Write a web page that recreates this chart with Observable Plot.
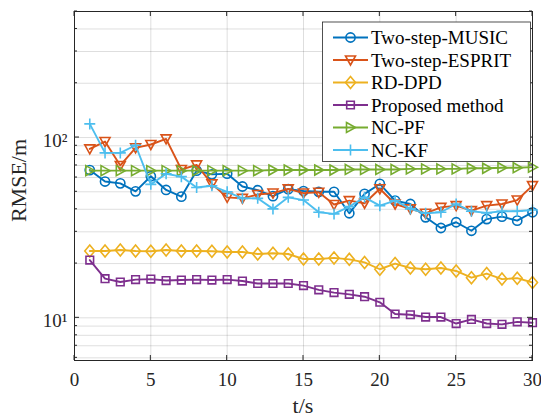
<!DOCTYPE html>
<html><head><meta charset="utf-8">
<script src="https://cdn.jsdelivr.net/npm/d3@7"></script>
<script src="https://cdn.jsdelivr.net/npm/@observablehq/plot@0.6"></script>
<style>
body{margin:0;background:#fff}
#chart{width:541px;height:418px}
</style>
</head><body><div id="chart"></div>
<script>
// ---- data ----
const t = [1,2,3,4,5,6,7,8,9,10,11,12,13,14,15,16,17,18,19,20,21,22,23,24,25,26,27,28,29,30];
const musicValues = [66, 57, 55.7, 50.3, 61, 51.2, 47, 65.5, 62.5, 63, 53.5, 51, 47.3, 51.7, 50.5, 50, 50, 38, 48.7, 55.3, 44.7, 42.8, 36.1, 31.5, 33.9, 30.4, 35.3, 36.4, 34.6, 38.5];
const espritValues = [86.5, 95, 70, 87.7, 91.5, 98.3, 66.5, 70.5, 55.3, 46.6, 46, 48.3, 49.2, 51.9, 49.2, 49.7, 42.5, 44.7, 43.2, 52, 42.8, 40.2, 38, 41, 41.9, 39.3, 41.9, 42.8, 45, 54.1];
const rdDpdValues = [23.5, 23.5, 23.8, 23.5, 23.4, 23.8, 23.5, 23.5, 23.4, 23.2, 23.2, 22.6, 22.8, 22.6, 21.2, 21.2, 21.5, 21.1, 20.3, 18.6, 20.0, 18.9, 18.6, 18.9, 18.2, 16.7, 17.6, 16.4, 16.6, 15.7];
const proposedValues = [20.9, 16.5, 15.8, 16.3, 16.4, 16.1, 16.2, 16.3, 16.2, 16.3, 16.0, 15.5, 15.5, 15.5, 15.1, 14.3, 13.8, 13.5, 13.1, 12.2, 10.5, 10.4, 10.1, 10.1, 9.3, 9.8, 9.3, 9.2, 9.5, 9.4];
const ncPfValues = [65.5, 65.5, 65.5, 65.5, 65.5, 65.5, 65.5, 65.5, 65.5, 65.5, 65.5, 65.5, 66, 66, 66, 66, 66, 66.5, 66.5, 66.5, 66.5, 67, 67, 67, 67, 67.5, 67.5, 68, 68, 68.5];
const ncKfValues = [119, 82.2, 82.2, 90.6, 55, 63, 60.7, 52.8, 54, 50, 46, 46, 40.2, 46.6, 45, 38.5, 37.7, 41.4, 46.6, 41.9, 44.7, 40.2, 38, 38.5, 42.8, 39, 38.2, 39, 39, 39.6];

const seriesNames = ["Two-step-MUSIC", "Two-step-ESPRIT", "RD-DPD", "Proposed method", "NC-PF", "NC-KF"];
const seriesColors = ["#0072BD", "#D95319", "#EDB120", "#7E2F8E", "#77AC30", "#4DBEEE"];
const seriesValues = [musicValues, espritValues, rdDpdValues, proposedValues, ncPfValues, ncKfValues];

const xTicks = [0, 5, 10, 15, 20, 25, 30];
const yMajorTicks = [10, 100];
const yTickLabels = ["10¹", "10²"];
const yMinorTicks = [6, 7, 8, 9, 20, 30, 40, 50, 60, 70, 80, 90, 200, 300, 400, 500];
const xLabel = "t/s";
const yLabel = "RMSE/m";

const FONT = "'Liberation Serif', 'Times New Roman', serif";

// ---- marker shapes (MATLAB-like open markers) ----
const symbols = [
  {draw(c){ c.moveTo(4.6, 0); c.arc(0, 0, 4.6, 0, 2 * Math.PI); }},
  {draw(c){ c.moveTo(-5, -4); c.lineTo(5, -4); c.lineTo(0, 5); c.closePath(); }},
  {draw(c){ c.moveTo(0, -6); c.lineTo(5, 0); c.lineTo(0, 6); c.lineTo(-5, 0); c.closePath(); }},
  {draw(c){ c.moveTo(-3.8, -3.8); c.lineTo(3.8, -3.8); c.lineTo(3.8, 3.8); c.lineTo(-3.8, 3.8); c.closePath(); }},
  {draw(c){ c.moveTo(-4, -5); c.lineTo(5, 0); c.lineTo(-4, 5); c.closePath(); }},
  {draw(c){ c.moveTo(-5.5, 0); c.lineTo(5.5, 0); c.moveTo(0, -5.5); c.lineTo(0, 5.5); }}
];

const seriesMarks = [];
seriesNames.forEach((name, i) => {
  const rows = t.map((tt, j) => ({t: tt, v: seriesValues[i][j]}));
  seriesMarks.push(Plot.line(rows, {x: "t", y: "v", stroke: seriesColors[i], strokeWidth: 1.9}));
  seriesMarks.push(Plot.dot(rows, {x: "t", y: "v", symbol: symbols[i], stroke: seriesColors[i], fill: "none", strokeWidth: 1.6}));
});

const plot = Plot.plot({
  width: 541, height: 418,
  marginLeft: 74, marginRight: 9, marginTop: 11, marginBottom: 58,
  style: {fontFamily: FONT, fontSize: "19px", color: "#262626", background: "#fff"},
  x: {type: "linear", domain: [0, 30]},
  y: {type: "log", domain: [5.8, 500]},
  marks: [
    Plot.gridX({ticks: xTicks, stroke: "#000", strokeOpacity: 0.13}),
    Plot.gridY({ticks: [...yMajorTicks, ...yMinorTicks], stroke: "#000", strokeOpacity: 0.13}),
    Plot.axisX({ticks: xTicks, tickSize: 0, tickPadding: 12, label: null, fill: "#262626", fontFamily: FONT, fontSize: 19}),
    Plot.axisY({ticks: yMajorTicks, tickFormat: d => yTickLabels[yMajorTicks.indexOf(d)], tickSize: 0, tickPadding: 7, dy: 3, label: null, fill: "#262626", fontFamily: FONT, fontSize: 19}),
    ...seriesMarks,
    Plot.frame({stroke: "#262626", strokeWidth: 1})
  ]
});
document.getElementById("chart").appendChild(plot);

// ---- inward ticks, axis titles, legend ----
const xs = plot.scale("x"), ys = plot.scale("y");
const [xl, xr] = xs.range;
const [yb, yt] = ys.range;
const svg = d3.select(plot);
const tg = svg.append("g").attr("stroke", "#262626").attr("stroke-width", 1);
xTicks.forEach(v => {
  const x = xs.apply(v);
  tg.append("line").attr("x1", x).attr("x2", x).attr("y1", yb).attr("y2", yb - 5);
  tg.append("line").attr("x1", x).attr("x2", x).attr("y1", yt).attr("y2", yt + 5);
});
[...yMajorTicks.map(v => [v, 5]), ...yMinorTicks.map(v => [v, 3])].forEach(([v, len]) => {
  const y = ys.apply(v);
  tg.append("line").attr("x1", xl).attr("x2", xl + len).attr("y1", y).attr("y2", y);
  tg.append("line").attr("x1", xr).attr("x2", xr - len).attr("y1", y).attr("y2", y);
});

svg.append("text").text(xLabel)
  .attr("x", (xl + xr) / 2).attr("y", yb + 53)
  .style("text-anchor", "middle").style("font-family", FONT).style("font-size", "22px").style("fill", "#262626");
svg.append("text").text(yLabel)
  .attr("transform", `translate(18,${(yb + yt) / 2 - 5}) rotate(-90)`)
  .style("text-anchor", "middle").attr("dominant-baseline", "central")
  .style("font-family", FONT).style("font-size", "22px").style("fill", "#262626");

const lg = svg.append("g").attr("transform", "translate(322.5,22)");
lg.append("rect").attr("x", 0).attr("y", 0).attr("width", 208).attr("height", 139.5)
  .style("fill", "#ffffff").style("stroke", "#262626").style("stroke-width", "0.8px");
seriesNames.forEach((name, i) => {
  const y = 15.5 + i * 22.5;
  lg.append("line").attr("x1", 10.5).attr("x2", 45.5).attr("y1", y).attr("y2", y)
    .style("stroke", seriesColors[i]).style("stroke-width", "1.9px");
  const p = d3.path(); symbols[i].draw(p);
  lg.append("path").attr("d", p.toString()).attr("transform", `translate(28,${y})`)
    .style("fill", "none").style("stroke", seriesColors[i]).style("stroke-width", "1.6px");
  lg.append("text").text(name).attr("x", 48.5).attr("y", y)
    .attr("dominant-baseline", "central").style("text-anchor", "start")
    .style("font-family", FONT).style("font-size", "19px").style("fill", "#000");
});
</script>
</body></html>
